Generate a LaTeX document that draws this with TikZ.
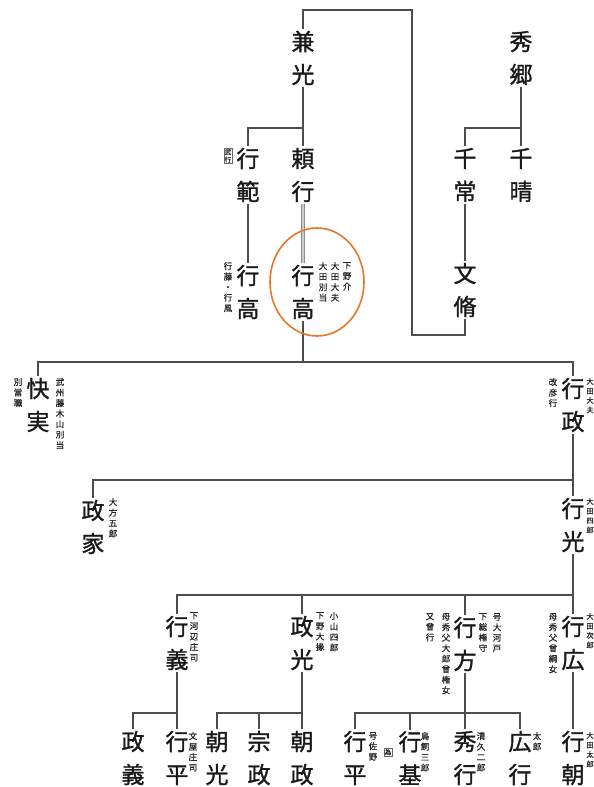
\documentclass[tikz,border=0pt]{standalone}
\usepackage{fontspec}
\newfontfamily\cjk{Noto Sans CJK JP}[FakeBold=1.2]
\newfontfamily\cjks{Noto Sans CJK JP}[FakeBold=0.6]
\begin{document}
\begin{tikzpicture}[x=1pt,y=-1pt,
  nm/.style={font=\fontsize{23}{33}\selectfont\cjk, align=center, inner sep=1.5pt, text=black!90},
  ann/.style={font=\fontsize{8.5}{10.5}\selectfont\cjks, align=center, inner sep=0pt, anchor=north, text=black!85},
  annr/.style={ann, font=\fontsize{7.2}{9.5}\selectfont\cjks},
  bx/.style={ann, draw=black!60, line width=0.4pt, inner sep=1pt, font=\fontsize{6.5}{7.5}\selectfont\cjks},
  ln/.style={draw=black!70, line width=1.2pt},
  dl/.style={draw=black!45, line width=1.2pt, double=black!20, double distance=1.8pt},
  circ/.style={draw={rgb,255:red,232;green,119;blue,40}, line width=1.6pt}]
\useasboundingbox (0,0) rectangle (594,787);
\fill[white] (0,0) rectangle (594,787);

% names
\node[nm] (kanemitsu) at (303,58) {兼\\光};
\node[nm] (hidesato) at (521,58) {秀\\郷};
\node[nm] (yukinori) at (248,175) {行\\範};
\node[nm] (yoriyuki) at (303,175) {頼\\行};
\node[nm] (chitsune) at (465,175) {千\\常};
\node[nm] (chiharu) at (521,175) {千\\晴};
\node[nm] (yukitakaL) at (248,292) {行\\高};
\node[nm] (yukitaka) at (303,292) {行\\高};
\node[nm] (fumiyasu) at (465,290) {文\\脩};
\node[nm] (kaijitsu) at (38,405) {快\\実};
\node[nm] (yukimasa) at (573,405) {行\\政};
\node[nm] (masaie) at (93,527) {政\\家};
\node[nm] (yukimitsu) at (573,525) {行\\光};
\node[nm] (yukiyoshi) at (177,643) {行\\義};
\node[nm] (masamitsu) at (302,643) {政\\光};
\node[nm] (yukikata) at (465,644) {行\\方};
\node[nm] (yukihiro) at (573,643) {行\\広};
\node[nm] (masayoshi) at (133,758) {政\\義};
\node[nm] (yukihira1) at (177,758) {行\\平};
\node[nm] (tomomitsu) at (217,758) {朝\\光};
\node[nm] (munemasa) at (259,758) {宗\\政};
\node[nm] (tomomasa) at (302,758) {朝\\政};
\node[nm] (yukihira2) at (355,758) {行\\平};
\node[nm] (yukimoto) at (410,758) {行\\基};
\node[nm] (hideyuki) at (465,758) {秀\\行};
\node[nm] (hiroyuki) at (520,758) {広\\行};
\node[nm] (yukitomo) at (573,758) {行\\朝};

% annotations
\node[bx] (a1) at (228,148) {武\\行};
\node[ann] (a2) at (228,262) {行\\藤\\・\\行\\風};
\node[ann] (a3) at (323,262) {大\\田\\別\\当};
\node[ann] (a4) at (335,262) {大\\田\\大\\夫};
\node[ann] (a5) at (347,262) {下\\野\\介};
\node[ann] (a6) at (60,378) {武\\州\\藤\\木\\山\\別\\当};
\node[ann] (a7) at (18,378) {別\\當\\職};
\node[ann] (a8) at (553,378) {改\\彦\\行};
\node[annr] (a9) at (590,378) {大\\田\\大\\夫};
\node[ann] (a10) at (113,498) {大\\方\\五\\郎};
\node[annr] (a11) at (590,498) {大\\田\\四\\郎};
\node[ann] (a12) at (194,612) {下\\河\\辺\\庄\\司};
\node[ann] (a13) at (320,612) {下\\野\\大\\掾};
\node[ann] (a14) at (334,612) {小\\山\\四\\郎};
\node[ann] (a15) at (430,613) {又\\曾\\行};
\node[ann] (a16) at (446,613) {母\\秀\\父\\大\\郎\\曾\\権\\女};
\node[ann] (a17) at (483,613) {下\\総\\権\\守};
\node[ann] (a18) at (497,613) {号\\大\\河\\戸};
\node[ann] (a19) at (553,613) {母\\秀\\父\\曾\\綱\\女};
\node[annr] (a20) at (590,613) {大\\田\\次\\郎};
\node[ann] (a21) at (193,732) {文\\屋\\庄\\司};
\node[ann] (a22) at (373,732) {号\\佐\\野};
\node[bx] (a23) at (388,748) {為};
\node[ann] (a24) at (425,732) {鳥\\飼\\三\\郎};
\node[ann] (a25) at (481,732) {清\\久\\二\\郎};
\node[ann] (a26) at (537,732) {太\\郎};
\node[annr] (a27) at (590,732) {大\\田\\太\\郎};

% junctions
\coordinate (t2) at (412,10);
\coordinate (t4) at (465,335);
\coordinate (j1) at (303,128);
\coordinate (j2) at (521,128);
\coordinate (j3) at (303,362);
\coordinate (j4) at (573,480);
\coordinate (j5) at (573,595);
\coordinate (j6) at (177,713);
\coordinate (j7) at (302,713);
\coordinate (j8) at (465,713);

% connectors
\draw[ln] (kanemitsu.north) |- (t2) |- (t4) -- (fumiyasu.south);
\draw[ln] (kanemitsu.south) -- (yoriyuki.north);
\draw[ln] (yukinori.north) |- (j1);
\draw[ln] (hidesato.south) -- (chiharu.north);
\draw[ln] (chitsune.north) |- (j2);
\draw[ln] (chitsune.south) -- (fumiyasu.north);
\draw[ln] (yukinori.south) -- (yukitakaL.north);
\draw[dl] (yoriyuki.south) -- (yukitaka.north);
\draw[ln] (yukitaka.south) -- (j3);
\draw[ln] (kaijitsu.north) |- (j3) -| (yukimasa.north);
\draw[ln] (yukimasa.south) -- (yukimitsu.north);
\draw[ln] (masaie.north) |- (j4);
\draw[ln] (yukimitsu.south) -- (yukihiro.north);
\draw[ln] (yukiyoshi.north) |- (j5);
\draw[ln] (masamitsu.north) -- (masamitsu.north |- j5);
\draw[ln] (yukikata.north) -- (yukikata.north |- j5);
\draw[ln] (yukiyoshi.south) -- (yukihira1.north);
\draw[ln] (masayoshi.north) |- (j6);
\draw[ln] (masamitsu.south) -- (tomomasa.north);
\draw[ln] (tomomitsu.north) |- (j7);
\draw[ln] (munemasa.north) -- (munemasa.north |- j7);
\draw[ln] (yukikata.south) -- (hideyuki.north);
\draw[ln] (yukihira2.north) |- (j8) -| (hiroyuki.north);
\draw[ln] (yukimoto.north) -- (yukimoto.north |- j8);
\draw[ln] (yukihiro.south) -- (yukitomo.north);

% highlight
\draw[circ] (317,282) ellipse [x radius=47, y radius=54];
\end{tikzpicture}
\end{document}
